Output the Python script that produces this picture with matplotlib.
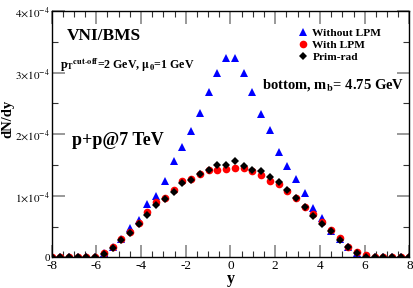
import numpy as np
import matplotlib
matplotlib.use("Agg")
import matplotlib.pyplot as plt
from matplotlib.ticker import MultipleLocator, FuncFormatter

plt.rcParams['font.family'] = ['Liberation Serif', 'DejaVu Serif']
plt.rcParams['mathtext.fontset'] = 'stix'
plt.rcParams['axes.unicode_minus'] = False

# rapidity bins
y = [-8.00, -7.61, -7.22, -6.83, -6.44, -6.05, -5.66, -5.27, -4.88, -4.49,
     -4.10, -3.71, -3.32, -2.93, -2.54, -2.15, -1.76, -1.37, -0.98, -0.59,
     -0.20, 0.20, 0.59, 0.98, 1.37, 1.76, 2.15, 2.54, 2.93, 3.32,
     3.71, 4.10, 4.49, 4.88, 5.27, 5.66, 6.05, 6.44, 6.83, 7.22,
     7.61, 8.00]

# dN/dy in units of 1e-4
no_lpm = [0, 0, 0, 0, 0, 0.012, 0.065, 0.16, 0.29, 0.47,
          0.61, 0.86, 1.00, 1.24, 1.57, 1.79, 2.05, 2.35, 2.69, 3.00,
          3.24, 3.24, 3.00, 2.68, 2.33, 2.07, 1.71, 1.48, 1.27, 1.045,
          0.80, 0.64, 0.43, 0.29, 0.16, 0.064, 0.015, 0, 0, 0,
          0, 0]
with_lpm = [0, 0, 0, 0, 0, 0.01, 0.07, 0.16, 0.29, 0.41,
            0.55, 0.74, 0.89, 0.96, 1.09, 1.24, 1.27, 1.36, 1.41, 1.42,
            1.43, 1.45, 1.45, 1.40, 1.33, 1.24, 1.19, 1.07, 0.965, 0.82,
            0.70, 0.57, 0.44, 0.31, 0.16, 0.08, 0.03, 0, 0, 0,
            0, 0]
prim_rad = [0, 0, 0, 0, 0, 0.01, 0.05, 0.145, 0.278, 0.40,
            0.535, 0.68, 0.857, 0.95, 1.066, 1.20, 1.26, 1.35, 1.42, 1.495,
            1.50, 1.56, 1.48, 1.415, 1.40, 1.30, 1.22, 1.09, 0.965, 0.81,
            0.675, 0.535, 0.43, 0.28, 0.16, 0.064, 0.01, 0, 0, 0,
            0, 0]

scale = 1e-4
fig = plt.figure(figsize=(4.14, 2.88), dpi=100)
ax = fig.add_axes([0.1244, 0.1066, 0.8646, 0.8552])

ax.plot(y, np.array(no_lpm) * scale, '^', color='#0000ff', ms=5.5, mew=0, label='Without LPM')
ax.plot(y, np.array(with_lpm) * scale, 'o', color='#ff0000', ms=5.5, mew=0, label='With LPM')
ax.plot(y, np.array(prim_rad) * scale, 'D', color='black', ms=4.4, mew=0, label='Prim-rad')

ax.set_xlim(-8, 8)
ax.set_ylim(0, 4e-4)
ax.xaxis.set_major_locator(MultipleLocator(2))
ax.xaxis.set_minor_locator(MultipleLocator(0.5))
ax.yaxis.set_major_locator(MultipleLocator(1e-4))
ax.yaxis.set_minor_locator(MultipleLocator(0.5e-4))


def yfmt(v, pos):
    n = int(round(v / 1e-4))
    if n == 0:
        return '0'
    return r'$%d{\times}10^{-4}$' % n


ax.yaxis.set_major_formatter(FuncFormatter(yfmt))
ax.tick_params(which='both', direction='in', top=True, right=True)
ax.tick_params(which='major', length=9, width=1.4, color='#999999', labelsize=9.5, pad=2)
ax.tick_params(axis='y', which='major', labelsize=8, pad=1)
ax.tick_params(which='minor', length=4.5, width=0.8, color='#333333')
for s in ax.spines.values():
    s.set_linewidth(1.0)

ax.set_xlabel('y', fontsize=11.5, fontweight='bold', labelpad=-1)
ax.set_ylabel('dN/dy', fontsize=10.5, fontweight='bold', labelpad=1)
ax.yaxis.set_label_coords(-0.105, 0.56)

ax.text(0.044, 0.90, 'VNI/BMS', transform=ax.transAxes, fontsize=12.5, fontweight='bold', va='center')
ax.text(0.025, 0.78, r'p$_\mathbf{T}$$^\mathbf{cut\text{-}off}$=2 GeV, $\mathbf{\mu_0}$=1 GeV',
        transform=ax.transAxes, fontsize=8.6, fontweight='bold', va='center')
ax.text(0.587, 0.70, r'bottom, m$_\mathbf{b}$= 4.75 GeV', transform=ax.transAxes,
        fontsize=10.5, fontweight='bold', va='center')
ax.text(0.058, 0.475, 'p+p@7 TeV', transform=ax.transAxes, fontsize=13, fontweight='bold', va='center')

ax.legend(loc='upper left', bbox_to_anchor=(0.67, 0.95), frameon=False,
          prop={'weight': 'bold', 'size': 8.2}, handletextpad=0.25, labelspacing=0.2,
          handlelength=1.2, borderaxespad=0)

fig.savefig('out.png', dpi=100)
